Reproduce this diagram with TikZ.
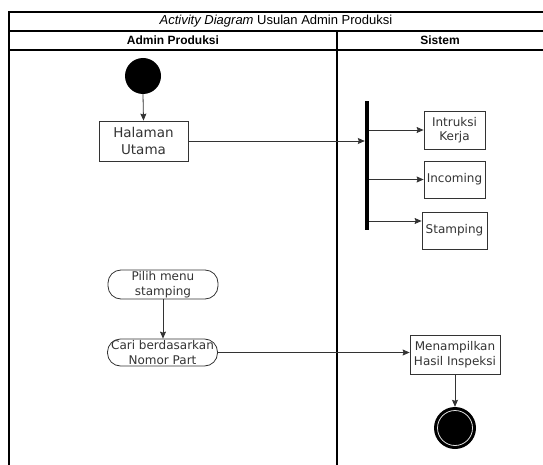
\documentclass[tikz,border=0pt]{standalone}
\usepackage{fontspec}
\setmainfont{Liberation Sans}
\newfontfamily\dv{DejaVu Sans}
\usetikzlibrary{arrows.meta}
\definecolor{ln}{HTML}{333333}
\definecolor{tx}{HTML}{333333}
\begin{document}
\begin{tikzpicture}[x=1pt,y=-1pt,
  frame/.style={draw=black,line width=1.2pt},
  actbox/.style={draw=ln,line width=0.8pt,rectangle,inner sep=0pt,align=center,text=tx,
    font=\dv\fontsize{12}{14.5}\selectfont},
  pill/.style={actbox,rounded corners=13pt},
  conn/.style={draw=ln,line width=0.8pt,-{Stealth[length=7pt,width=6pt,inset=1pt]}},
  plain/.style={draw=ln,line width=0.8pt}]
\useasboundingbox (0,0) rectangle (543,465);
% frame
\draw[frame] (9,465) -- (9,12) -- (543,12);
\draw[frame] (9,31) -- (543,31);
\draw[frame] (9,50) -- (543,50);
\draw[frame] (337,31) -- (337,465);
\node[font=\fontsize{13}{15}\selectfont] (title) at (276,21.5) {\textit{Activity Diagram} Usulan Admin Produksi};
\node[font=\bfseries\fontsize{12}{14}\selectfont] (h1) at (173,40.5) {Admin Produksi};
\node[font=\bfseries\fontsize{12}{14}\selectfont] (h2) at (440,40.5) {Sistem};
% start
\node[circle,fill=black,minimum size=36pt,inner sep=0pt] (start) at (143,76) {};
\node[actbox,minimum width=89pt,minimum height=40pt,font=\dv\fontsize{13.5}{17}\selectfont] (hal) at (143.5,141) {Halaman\\Utama};
\draw[conn] (start.south) -- (hal.north);
% fork bar
\node[rectangle,fill=black,minimum width=4pt,minimum height=129pt,inner sep=0pt] (bar) at (367,165.5) {};
\draw[conn] (hal.east) -- (hal.east -| bar.west);
% system boxes
\node[actbox,minimum width=61pt,minimum height=38pt] (ik) at (454.5,130) {Intruksi\\Kerja};
\node[actbox,minimum width=61pt,minimum height=37pt] (inc) at (454.5,179.5) {Incoming};
\node[actbox,minimum width=65pt,minimum height=37pt] (stp) at (454.5,230.5) {Stamping};
\draw[conn] (bar.east |- ik.west) -- (ik.west);
\draw[conn] (bar.east |- inc.west) -- (inc.west);
\draw[conn] (bar.east |- 0,221) -- ([yshift=9.5pt]stp.west);
% pills
\node[pill,minimum width=110pt,minimum height=29pt] (p1) at (163,284.5) {Pilih menu\\stamping};
\node[pill,minimum width=110pt,minimum height=27pt] (p2) at (162.5,352.5) {Cari berdasarkan\\Nomor Part};
\draw[conn] (p1.south) -- (p2.north -| p1.south);
\node[actbox,minimum width=90pt,minimum height=39pt] (men) at (455,354.5) {Menampilkan\\Hasil Inspeksi};
\draw[conn] (p2.east) -- (p2.east -| men.west);
% end
\node[circle,fill=black,minimum size=42pt,inner sep=0pt] (end) at (455,428) {};
\draw[white!75!gray,line width=0.8pt] (end.center) circle (17.5);
\draw[conn] (men.south) -- (end.north);
\end{tikzpicture}
\end{document}
